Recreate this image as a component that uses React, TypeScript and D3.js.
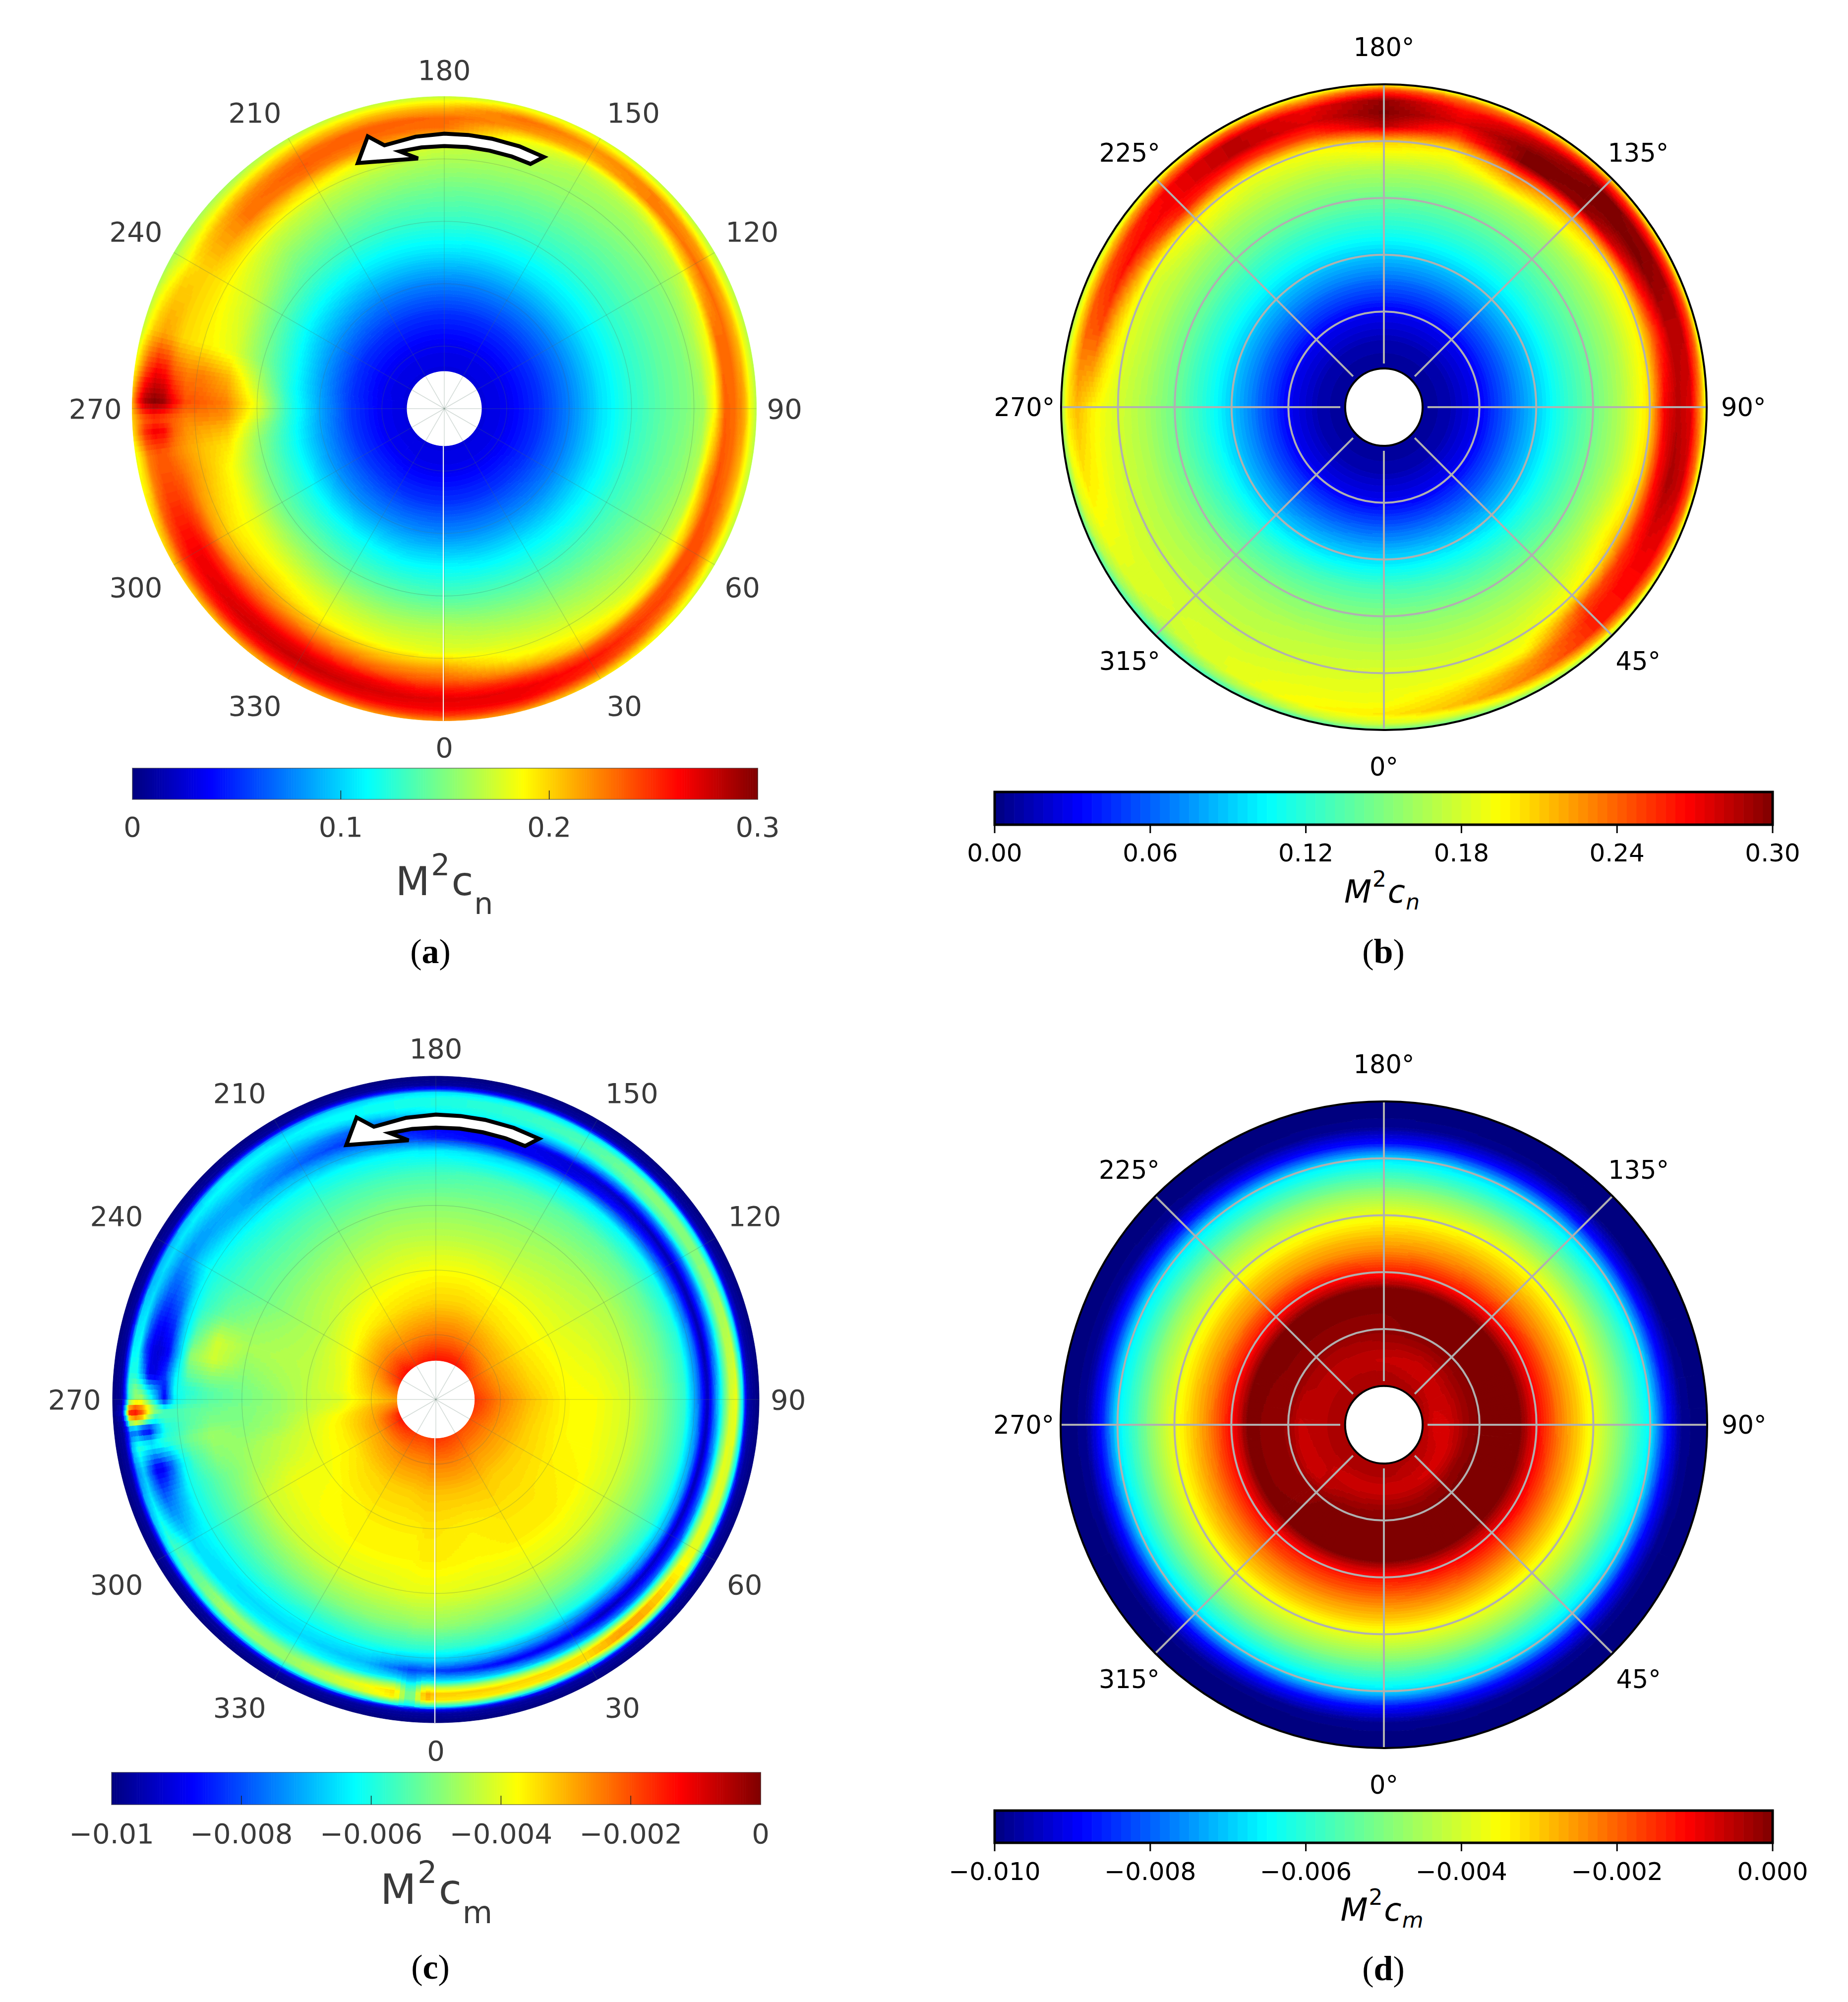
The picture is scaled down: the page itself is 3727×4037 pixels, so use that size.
import * as d3 from "d3";
import { useMemo } from "react";

// jet colormaps: (a),(c) come from MATLAB, (b),(d) from matplotlib
const jetColors = ["#00007f", "#0000ff", "#00ffff", "#ffff00", "#ff0000", "#7f0000"];
const jetStopsMatlab = [0, 0.125, 0.375, 0.625, 0.875, 1];
const jetStopsMpl = [0, 0.11, 0.35, 0.65, 0.89, 1];

// (a) measured M2cn, rows = azimuth, columns = r/R
const aRadii = [0.12, 0.2, 0.3, 0.4, 0.5, 0.6, 0.7, 0.78, 0.83, 0.87, 0.9, 0.93, 0.96, 0.98, 1];
const aThetas = [0, 15, 30, 45, 60, 75, 90, 105, 120, 135, 150, 165, 180, 195, 210, 225, 240, 255, 262, 268.5, 272, 274.5, 279, 285, 300, 315, 330, 345];
const aValues = [
  [0.028, 0.033, 0.052, 0.078, 0.11, 0.135, 0.165, 0.18, 0.215, 0.235, 0.255, 0.27, 0.265, 0.25, 0.22],
  [0.028, 0.033, 0.052, 0.078, 0.108, 0.135, 0.16, 0.178, 0.19, 0.22, 0.25, 0.268, 0.265, 0.245, 0.215],
  [0.028, 0.033, 0.052, 0.078, 0.108, 0.132, 0.155, 0.172, 0.185, 0.2, 0.235, 0.258, 0.25, 0.225, 0.195],
  [0.028, 0.033, 0.052, 0.076, 0.106, 0.13, 0.15, 0.165, 0.175, 0.195, 0.235, 0.245, 0.23, 0.205, 0.18],
  [0.028, 0.033, 0.05, 0.075, 0.105, 0.128, 0.145, 0.158, 0.17, 0.2, 0.24, 0.24, 0.215, 0.19, 0.17],
  [0.028, 0.033, 0.05, 0.075, 0.104, 0.126, 0.142, 0.153, 0.165, 0.215, 0.24, 0.23, 0.21, 0.185, 0.168],
  [0.028, 0.033, 0.05, 0.075, 0.104, 0.125, 0.14, 0.15, 0.16, 0.19, 0.235, 0.23, 0.215, 0.185, 0.165],
  [0.028, 0.033, 0.05, 0.075, 0.104, 0.125, 0.14, 0.15, 0.165, 0.185, 0.23, 0.23, 0.21, 0.185, 0.165],
  [0.028, 0.033, 0.05, 0.075, 0.104, 0.125, 0.14, 0.15, 0.16, 0.17, 0.205, 0.23, 0.215, 0.185, 0.165],
  [0.028, 0.033, 0.05, 0.075, 0.104, 0.125, 0.14, 0.152, 0.158, 0.165, 0.18, 0.225, 0.225, 0.195, 0.168],
  [0.028, 0.033, 0.05, 0.075, 0.104, 0.126, 0.142, 0.155, 0.16, 0.165, 0.175, 0.21, 0.22, 0.2, 0.175],
  [0.028, 0.033, 0.05, 0.075, 0.104, 0.127, 0.144, 0.158, 0.165, 0.175, 0.19, 0.22, 0.23, 0.205, 0.175],
  [0.028, 0.033, 0.05, 0.075, 0.105, 0.128, 0.145, 0.16, 0.17, 0.205, 0.23, 0.232, 0.21, 0.19, 0.17],
  [0.028, 0.033, 0.05, 0.075, 0.105, 0.128, 0.148, 0.165, 0.18, 0.22, 0.232, 0.235, 0.21, 0.19, 0.17],
  [0.028, 0.033, 0.05, 0.075, 0.105, 0.13, 0.152, 0.17, 0.195, 0.228, 0.236, 0.23, 0.205, 0.185, 0.165],
  [0.028, 0.033, 0.05, 0.077, 0.107, 0.133, 0.155, 0.175, 0.205, 0.228, 0.228, 0.218, 0.195, 0.175, 0.16],
  [0.028, 0.033, 0.05, 0.08, 0.11, 0.14, 0.17, 0.185, 0.195, 0.2, 0.2, 0.195, 0.18, 0.172, 0.16],
  [0.028, 0.033, 0.052, 0.083, 0.118, 0.15, 0.18, 0.19, 0.195, 0.2, 0.21, 0.215, 0.205, 0.19, 0.17],
  [0.028, 0.034, 0.052, 0.085, 0.12, 0.165, 0.21, 0.225, 0.225, 0.235, 0.255, 0.26, 0.24, 0.215, 0.185],
  [0.028, 0.034, 0.054, 0.087, 0.125, 0.18, 0.225, 0.235, 0.24, 0.265, 0.29, 0.297, 0.285, 0.255, 0.21],
  [0.028, 0.034, 0.054, 0.087, 0.125, 0.175, 0.22, 0.225, 0.225, 0.235, 0.24, 0.245, 0.235, 0.22, 0.2],
  [0.028, 0.034, 0.054, 0.086, 0.123, 0.165, 0.21, 0.215, 0.22, 0.235, 0.26, 0.265, 0.25, 0.225, 0.195],
  [0.028, 0.034, 0.054, 0.085, 0.12, 0.155, 0.195, 0.205, 0.215, 0.225, 0.235, 0.235, 0.225, 0.2, 0.18],
  [0.028, 0.034, 0.054, 0.084, 0.118, 0.15, 0.185, 0.205, 0.22, 0.235, 0.24, 0.24, 0.225, 0.2, 0.185],
  [0.028, 0.034, 0.054, 0.082, 0.118, 0.145, 0.18, 0.195, 0.215, 0.25, 0.265, 0.265, 0.25, 0.225, 0.2],
  [0.028, 0.034, 0.054, 0.08, 0.116, 0.145, 0.175, 0.2, 0.225, 0.25, 0.27, 0.275, 0.26, 0.235, 0.205],
  [0.028, 0.033, 0.052, 0.08, 0.114, 0.14, 0.17, 0.19, 0.22, 0.25, 0.27, 0.28, 0.265, 0.24, 0.215],
  [0.028, 0.033, 0.052, 0.079, 0.11, 0.138, 0.165, 0.185, 0.215, 0.24, 0.265, 0.275, 0.265, 0.245, 0.215],
];

// (b) computed M2cn
const bRadii = [0.12, 0.2, 0.296, 0.472, 0.56, 0.648, 0.74, 0.824, 0.87, 0.91, 0.95, 0.98, 1];
const bThetas = [0, 15, 30, 45, 60, 75, 90, 105, 120, 135, 150, 165, 180, 195, 210, 225, 240, 255, 270, 285, 300, 315, 330, 345];
const bValues = [
  [0.006, 0.012, 0.031, 0.095, 0.13, 0.152, 0.17, 0.183, 0.187, 0.19, 0.2, 0.18, 0.14],
  [0.006, 0.012, 0.031, 0.095, 0.128, 0.152, 0.17, 0.183, 0.19, 0.205, 0.215, 0.18, 0.14],
  [0.006, 0.012, 0.031, 0.093, 0.125, 0.15, 0.17, 0.185, 0.195, 0.225, 0.235, 0.195, 0.15],
  [0.006, 0.012, 0.031, 0.09, 0.122, 0.148, 0.17, 0.195, 0.245, 0.26, 0.26, 0.215, 0.16],
  [0.006, 0.012, 0.031, 0.09, 0.12, 0.145, 0.175, 0.21, 0.255, 0.27, 0.27, 0.235, 0.17],
  [0.006, 0.012, 0.031, 0.09, 0.12, 0.145, 0.17, 0.205, 0.265, 0.29, 0.28, 0.24, 0.175],
  [0.006, 0.012, 0.031, 0.09, 0.12, 0.144, 0.17, 0.205, 0.27, 0.285, 0.275, 0.225, 0.18],
  [0.006, 0.012, 0.031, 0.09, 0.12, 0.144, 0.168, 0.2, 0.25, 0.285, 0.285, 0.245, 0.18],
  [0.006, 0.012, 0.031, 0.09, 0.12, 0.144, 0.168, 0.2, 0.27, 0.3, 0.295, 0.25, 0.18],
  [0.006, 0.012, 0.031, 0.09, 0.118, 0.142, 0.168, 0.215, 0.295, 0.3, 0.3, 0.255, 0.19],
  [0.006, 0.012, 0.031, 0.09, 0.118, 0.142, 0.17, 0.235, 0.3, 0.3, 0.28, 0.24, 0.185],
  [0.006, 0.012, 0.031, 0.09, 0.118, 0.142, 0.168, 0.2, 0.25, 0.275, 0.265, 0.235, 0.18],
  [0.006, 0.012, 0.031, 0.09, 0.118, 0.144, 0.17, 0.21, 0.285, 0.3, 0.295, 0.25, 0.19],
  [0.006, 0.012, 0.031, 0.09, 0.118, 0.144, 0.168, 0.195, 0.25, 0.275, 0.27, 0.225, 0.18],
  [0.006, 0.012, 0.031, 0.09, 0.118, 0.144, 0.168, 0.19, 0.25, 0.285, 0.285, 0.24, 0.18],
  [0.006, 0.012, 0.031, 0.09, 0.118, 0.144, 0.168, 0.2, 0.26, 0.27, 0.27, 0.23, 0.175],
  [0.006, 0.012, 0.031, 0.09, 0.118, 0.144, 0.168, 0.185, 0.23, 0.265, 0.25, 0.21, 0.17],
  [0.006, 0.012, 0.031, 0.09, 0.118, 0.144, 0.168, 0.185, 0.21, 0.245, 0.24, 0.2, 0.165],
  [0.006, 0.012, 0.031, 0.09, 0.118, 0.144, 0.165, 0.18, 0.19, 0.2, 0.215, 0.2, 0.16],
  [0.006, 0.012, 0.031, 0.09, 0.12, 0.144, 0.165, 0.178, 0.185, 0.195, 0.2, 0.185, 0.14],
  [0.006, 0.012, 0.031, 0.09, 0.123, 0.147, 0.165, 0.175, 0.18, 0.185, 0.185, 0.165, 0.13],
  [0.006, 0.012, 0.031, 0.09, 0.126, 0.15, 0.167, 0.175, 0.18, 0.18, 0.175, 0.15, 0.12],
  [0.006, 0.012, 0.031, 0.092, 0.128, 0.152, 0.168, 0.175, 0.18, 0.185, 0.185, 0.16, 0.125],
  [0.006, 0.012, 0.031, 0.094, 0.13, 0.152, 0.17, 0.18, 0.185, 0.19, 0.195, 0.17, 0.13],
];

// (c) measured M2cm x 1000
const cRadii = [0.12, 0.2, 0.3, 0.4, 0.5, 0.6, 0.7, 0.77, 0.81, 0.84, 0.87, 0.89, 0.91, 0.93, 0.95, 0.96, 0.972, 1];
const cThetas = [0, 15, 30, 38, 45, 60, 75, 90, 105, 120, 135, 150, 165, 180, 195, 210, 225, 240, 248, 255, 260, 265, 268, 270, 271, 272.5, 274, 276, 279, 284, 290, 300, 315, 330, 345, 352, 355, 358];
const cValues = [
  [-1.7, -2.5, -3.2, -3.5, -3.6, -4.0, -4.8, -5.8, -6.8, -8.2, -6.5, -4.5, -3.2, -3.5, -6.0, -8.8, -9.7, -10],
  [-1.8, -2.5, -3.2, -3.6, -3.7, -4.1, -5.0, -5.9, -7.2, -8.8, -6.8, -4.6, -3.3, -3.6, -6.0, -8.8, -9.7, -10],
  [-1.9, -2.6, -3.2, -3.5, -3.6, -4.1, -5.0, -6.0, -7.6, -9.0, -7.2, -5.0, -3.4, -3.4, -5.8, -8.6, -9.7, -10],
  [-2.0, -2.7, -3.3, -3.5, -3.6, -4.1, -5.0, -6.0, -7.8, -9.5, -7.6, -5.0, -2.9, -2.8, -5.5, -8.5, -9.7, -10],
  [-2.0, -2.7, -3.3, -3.5, -3.6, -4.1, -5.0, -6.0, -7.6, -9.4, -7.8, -5.2, -3.0, -3.0, -5.6, -8.6, -9.7, -10],
  [-2.0, -2.7, -3.3, -3.6, -3.7, -4.2, -5.0, -5.8, -7.0, -9.4, -8.0, -5.5, -4.0, -4.0, -6.0, -8.8, -9.7, -10],
  [-1.8, -2.6, -3.3, -3.7, -3.8, -4.2, -5.0, -5.8, -7.2, -9.5, -7.5, -5.2, -4.0, -4.2, -6.3, -8.9, -9.7, -10],
  [-1.7, -2.5, -3.2, -3.7, -3.8, -4.2, -5.0, -5.8, -7.5, -9.5, -7.0, -5.5, -4.2, -3.9, -6.5, -9.2, -9.7, -10],
  [-1.9, -2.7, -3.4, -3.8, -4.0, -4.4, -5.1, -5.9, -7.6, -9.6, -7.6, -5.8, -4.6, -4.5, -6.6, -9.0, -9.7, -10],
  [-1.9, -2.8, -3.5, -3.9, -4.2, -4.5, -5.2, -6.1, -8.0, -9.6, -7.8, -5.8, -5.0, -5.0, -6.6, -9.0, -9.7, -10],
  [-1.6, -2.7, -3.5, -3.9, -4.3, -4.7, -5.3, -6.3, -8.5, -9.5, -7.5, -5.5, -5.0, -5.0, -6.5, -8.9, -9.7, -10],
  [-1.4, -2.5, -3.4, -3.9, -4.4, -4.8, -5.4, -6.5, -9.0, -9.2, -7.0, -6.0, -5.5, -5.6, -6.5, -8.8, -9.7, -10],
  [-1.4, -2.4, -3.3, -3.8, -4.4, -4.9, -5.5, -6.6, -8.8, -8.8, -7.0, -6.0, -5.8, -5.8, -6.5, -8.6, -9.7, -10],
  [-1.4, -2.4, -3.3, -3.8, -4.4, -4.9, -5.6, -6.4, -8.5, -8.8, -7.0, -6.3, -6.0, -6.0, -6.5, -8.5, -9.7, -10],
  [-1.5, -2.5, -3.4, -3.9, -4.4, -4.9, -5.6, -6.3, -7.5, -8.4, -7.8, -6.8, -6.2, -6.2, -6.7, -8.4, -9.7, -10],
  [-1.6, -2.6, -3.5, -4.0, -4.5, -5.0, -5.6, -6.2, -7.0, -7.8, -7.4, -7.0, -6.5, -6.3, -6.8, -8.5, -9.7, -10],
  [-1.3, -2.5, -3.6, -4.2, -4.6, -5.1, -5.6, -6.1, -6.6, -7.1, -7.1, -6.8, -6.5, -6.2, -6.6, -8.4, -9.7, -10],
  [-1.5, -2.6, -3.8, -4.4, -4.7, -5.1, -5.5, -5.9, -6.2, -6.6, -7.2, -7.3, -6.9, -6.5, -7.0, -8.6, -9.7, -10],
  [-1.8, -2.8, -3.9, -4.4, -4.6, -4.8, -5.2, -5.8, -6.5, -7.6, -8.0, -7.8, -7.2, -6.6, -7.0, -8.6, -9.7, -10],
  [-2.2, -3.0, -4.0, -4.4, -4.5, -4.6, -4.2, -5.4, -6.8, -8.4, -8.8, -8.6, -7.8, -6.4, -6.6, -8.4, -9.7, -10],
  [-2.4, -3.1, -4.0, -4.4, -4.6, -4.8, -4.2, -4.8, -7.0, -8.8, -9.2, -9.0, -8.2, -6.2, -6.4, -8.2, -9.7, -10],
  [-2.6, -3.2, -4.0, -4.4, -4.7, -5.0, -5.0, -5.4, -6.4, -8.2, -9.0, -9.0, -7.2, -6.0, -6.0, -8.2, -9.7, -10],
  [-2.7, -3.3, -4.1, -4.4, -4.8, -5.1, -5.4, -5.9, -6.2, -8.6, -7.2, -6.4, -5.4, -5.0, -5.6, -8.0, -9.7, -10],
  [-2.8, -3.3, -4.1, -4.4, -4.8, -5.1, -5.4, -5.8, -6.4, -8.8, -6.6, -5.6, -4.6, -4.8, -5.8, -8.2, -9.7, -10],
  [-2.8, -3.3, -4.1, -4.4, -4.8, -5.1, -5.3, -5.6, -6.0, -7.0, -5.2, -4.0, -3.0, -2.5, -3.5, -7.0, -9.5, -10],
  [-2.8, -3.3, -4.0, -4.4, -4.8, -5.0, -5.2, -5.4, -5.6, -5.6, -5.0, -3.8, -2.2, -1.5, -1.8, -5.5, -9.3, -10],
  [-2.6, -3.2, -4.0, -4.4, -4.8, -5.0, -5.1, -5.4, -5.6, -5.6, -6.0, -5.0, -3.6, -3.0, -4.0, -7.5, -9.6, -10],
  [-2.5, -3.1, -3.9, -4.3, -4.7, -5.0, -5.0, -5.4, -5.8, -6.0, -7.4, -9.0, -8.8, -7.8, -7.8, -8.8, -9.7, -10],
  [-2.4, -3.0, -3.7, -4.2, -4.7, -4.9, -4.7, -5.1, -5.6, -5.8, -6.0, -6.2, -6.0, -5.8, -6.8, -8.6, -9.7, -10],
  [-2.0, -2.9, -3.6, -4.1, -4.4, -4.7, -4.9, -5.6, -6.4, -7.8, -8.9, -8.9, -7.9, -6.8, -7.4, -8.8, -9.7, -10],
  [-1.6, -2.8, -3.6, -4.0, -4.3, -4.6, -5.2, -5.8, -6.2, -7.0, -7.6, -7.8, -7.2, -6.4, -7.0, -8.6, -9.7, -10],
  [-1.4, -2.8, -3.6, -3.9, -3.9, -4.3, -5.2, -5.8, -6.2, -6.4, -6.6, -6.2, -5.8, -5.6, -6.6, -8.6, -9.7, -10],
  [-1.6, -2.7, -3.4, -3.7, -3.8, -4.2, -5.1, -5.8, -6.3, -6.6, -6.4, -5.6, -4.6, -4.8, -6.4, -8.6, -9.7, -10],
  [-1.8, -2.6, -3.3, -3.6, -3.7, -4.1, -5.0, -5.9, -6.4, -6.6, -6.2, -5.4, -4.8, -4.8, -6.2, -8.7, -9.7, -10],
  [-1.9, -2.6, -3.3, -3.6, -3.7, -4.1, -4.9, -5.8, -6.5, -6.9, -6.4, -4.8, -3.9, -4.2, -6.2, -8.8, -9.7, -10],
  [-1.8, -2.6, -3.2, -3.6, -3.7, -4.0, -4.9, -5.8, -6.8, -7.8, -6.4, -4.6, -3.4, -3.6, -6.0, -8.8, -9.7, -10],
  [-1.8, -2.5, -3.2, -3.5, -3.6, -4.0, -4.8, -5.8, -6.8, -8.2, -7.0, -6.0, -5.5, -5.5, -6.4, -8.8, -9.7, -10],
  [-1.7, -2.5, -3.2, -3.5, -3.6, -4.0, -4.8, -5.8, -6.8, -8.0, -6.4, -4.2, -2.8, -3.0, -5.8, -8.8, -9.7, -10],
];

// (d) computed M2cm x 1000
const dRadii = [0.12, 0.16, 0.2, 0.26, 0.3, 0.42, 0.47, 0.54, 0.6, 0.648, 0.72, 0.78, 0.824, 0.87, 0.92, 0.96, 1];
const dThetas = [0, 30, 60, 90, 120, 150, 180, 210, 240, 270, 300, 330];
const dValues = [
  [-0.4, -0.4, -0.7, -0.2, 0, 0, -1.2, -2.2, -3.0, -3.7, -4.8, -5.9, -6.8, -8.7, -9.8, -10, -10],
  [-0.4, -0.5, -0.7, -0.2, 0, 0, -1.0, -2.1, -3.0, -3.7, -4.8, -6.0, -6.9, -8.8, -9.9, -10, -10],
  [-0.4, -0.6, -0.8, -0.1, 0, 0, -0.9, -2.1, -3.0, -3.7, -4.8, -6.0, -6.9, -8.9, -9.9, -10, -10],
  [-0.4, -0.8, -0.7, -0.2, 0, 0, -1.0, -2.2, -3.0, -3.7, -4.8, -5.8, -6.6, -8.6, -9.8, -10, -10],
  [-0.3, -0.6, -0.6, -0.2, 0, 0, -1.0, -2.2, -3.0, -3.6, -4.8, -5.9, -6.9, -8.9, -10, -10, -10],
  [-0.3, -0.5, -0.7, -0.3, 0, 0, -1.2, -2.3, -3.0, -3.6, -4.8, -6.0, -6.9, -8.8, -9.9, -10, -10],
  [-0.4, -0.4, -0.6, -0.3, -0.1, 0, -1.3, -2.4, -3.1, -3.7, -4.8, -5.9, -6.8, -8.8, -9.8, -10, -10],
  [-0.3, -0.4, -0.5, -0.4, -0.1, 0, -1.1, -2.4, -3.1, -3.8, -4.8, -5.9, -6.8, -8.8, -9.9, -10, -10],
  [-0.3, -0.4, -0.5, -0.4, -0.1, 0, -1.2, -2.4, -3.1, -3.8, -4.8, -5.9, -6.7, -8.6, -9.8, -10, -10],
  [-0.4, -0.4, -0.5, -0.6, -0.2, 0, -1.1, -2.3, -3.1, -3.7, -4.8, -5.9, -6.7, -8.6, -9.8, -10, -10],
  [-0.3, -0.4, -0.5, -0.7, -0.2, 0, -1.1, -2.2, -3.0, -3.7, -4.8, -5.9, -6.9, -8.8, -9.9, -10, -10],
  [-0.4, -0.4, -0.7, -0.3, 0, 0, -1.2, -2.2, -3.0, -3.7, -4.8, -6.0, -6.9, -8.8, -9.9, -10, -10],
];

// azimuth tick labels and colorbar ticks
const matlabAzimuths = [0, 30, 60, 90, 120, 150, 180, 210, 240, 270, 300, 330];
const matlabLabelOffsets = [
  [0, 1.086], [0.577, 0.953], [0.955, 0.573], [1.09, 0], [0.986, -0.567], [0.606, -0.947],
  [0, -1.085], [-0.607, -0.947], [-0.988, -0.567], [-1.118, 0], [-0.988, 0.573], [-0.607, 0.953],
];
const mplAzimuths = [0, 45, 90, 135, 180, 225, 270, 315];
const aTicks = [0, 0.1, 0.2, 0.3];
const aTickLabels = ["0", "0.1", "0.2", "0.3"];
const bTicks = [0, 0.06, 0.12, 0.18, 0.24, 0.3];
const bTickLabels = ["0.00", "0.06", "0.12", "0.18", "0.24", "0.30"];
const cTicks = [-10, -8, -6, -4, -2, 0];
const cTickLabels = ["\u22120.01", "\u22120.008", "\u22120.006", "\u22120.004", "\u22120.002", "0"];
const dTickLabels = ["\u22120.010", "\u22120.008", "\u22120.006", "\u22120.004", "\u22120.002", "0.000"];

// rotation arrow in (azimuth, r/R)
const arrowOutline = [
  [158.4, 0.867], [164, 0.874], [170, 0.878], [175, 0.88], [180, 0.881], [186, 0.876], [192.8, 0.865],
  [195.7, 0.906], [199.4, 0.834], [186, 0.806], [189.8, 0.836], [185, 0.84], [180, 0.841], [175, 0.841],
  [170, 0.839], [165, 0.836], [160.6, 0.831],
];

const angle = d3.scaleLinear([0, 360], [Math.PI, -Math.PI]);
const FONT = "'DejaVu Sans'";

function jetScale(domain: number[], stops: number[]) {
  const pos = d3.scaleLinear([0, 1], domain);
  return d3.scaleLinear<string>(stops.map((s) => pos(s)), jetColors).clamp(true);
}

// bilinear lookup in the table, the way a shaded pcolor fills between its nodes
function lookup(thetas: number[], radii: number[], values: number[][], th: number, r: number) {
  const ths = [...thetas, thetas[0] + 360];
  const i = Math.min(d3.bisectRight(ths, th) - 1, ths.length - 2);
  const j = Math.max(0, Math.min(d3.bisectRight(radii, r) - 1, radii.length - 2));
  const u = (th - ths[i]) / (ths[i + 1] - ths[i]);
  const w = Math.max(0, Math.min(1, (r - radii[j]) / (radii[j + 1] - radii[j])));
  const row0 = values[i];
  const row1 = values[(i + 1) % values.length];
  const a = row0[j] + (row0[j + 1] - row0[j]) * w;
  const b = row1[j] + (row1[j + 1] - row1[j]) * w;
  return a + (b - a) * u;
}

function Field({ R, thetas, radii, values, domain, stops, levels }: any) {
  const cells = useMemo(() => {
    const color = jetScale(domain, stops);
    const rad = d3.scaleLinear([0, 1], [0, R]);
    const t = d3.scaleLinear(domain, [0, levels - 1]).clamp(true);
    const arc = d3.arc().digits(1);
    const byLevel = new Map<number, string[]>();
    const dTh = 1;
    const dR = 0.004;
    for (let th = 0; th < 360; th += dTh) {
      let start = 0.12;
      let cur = -1;
      for (let r = 0.12; r < 1 + dR / 2; r += dR) {
        const lev = r >= 1 ? -2 : Math.round(t(lookup(thetas, radii, values, th + dTh / 2, r + dR / 2)));
        if (lev !== cur) {
          if (cur >= 0) {
            const d = arc({
              innerRadius: rad(start),
              outerRadius: rad(Math.min(r, 1)),
              startAngle: angle(th),
              endAngle: angle(th + dTh),
            } as any) as string;
            if (!byLevel.has(cur)) byLevel.set(cur, []);
            byLevel.get(cur)!.push(d);
          }
          start = r;
          cur = lev;
        }
      }
    }
    const lv = d3.scaleLinear([0, levels - 1], domain);
    return Array.from(byLevel, ([lev, ds]) => ({ d: ds.join(""), fill: color(lv(lev)) }));
  }, [R, thetas, radii, values, domain, stops, levels]);

  return (
    <g>
      {cells.map((c, i) => (
        <path key={i} d={c.d} fill={c.fill} stroke={c.fill} strokeWidth={0.8} />
      ))}
    </g>
  );
}

function Arrow({ R }: { R: number }) {
  const rad = d3.scaleLinear([0, 1], [0, R]);
  const line = d3
    .lineRadial<number[]>()
    .angle((d) => angle(d[0]))
    .radius((d) => rad(d[1]))
    .curve(d3.curveLinearClosed);
  return <path d={line(arrowOutline) as string} fill="#fff" stroke="#000" strokeWidth={8} strokeLinejoin="miter" />;
}

// panels (a) and (c): MATLAB polar plot, thin grid, white seam at azimuth 0
function MatlabPolar({ cx, cy, R, thetas, radii, values, domain }: any) {
  const rad = d3.scaleLinear([0, 1], [0, R]);
  const rings = [0.2, 0.4, 0.6, 0.8];
  return (
    <g transform={`translate(${cx},${cy})`}>
      <Field R={R} thetas={thetas} radii={radii} values={values} domain={domain} stops={jetStopsMatlab} levels={110} />
      <circle r={rad(0.12)} fill="#fff" />
      {rings.map((r) => (
        <circle key={r} r={rad(r)} fill="none" stroke="#4f6f5f" strokeOpacity={0.25} strokeWidth={1.5} />
      ))}
      {matlabAzimuths.map((th) => (
        <line
          key={th}
          x2={rad(1) * Math.sin(-angle(th) + Math.PI)}
          y2={rad(1) * Math.cos(-angle(th) + Math.PI)}
          stroke="#4f6f5f"
          strokeOpacity={0.25}
          strokeWidth={1.5}
        />
      ))}
      <line x1={-2} x2={-2} y1={rad(0.12)} y2={rad(1)} stroke="#fff" strokeWidth={2} />
      <Arrow R={R} />
      {matlabAzimuths.map((th, i) => (
        <text
          key={th}
          x={matlabLabelOffsets[i][0] * R}
          y={matlabLabelOffsets[i][1] * R}
          textAnchor="middle"
          dominantBaseline="central"
          fontFamily={FONT}
          fontSize={56}
          fill="#3a3a3a"
        >
          {th}
        </text>
      ))}
    </g>
  );
}

// panels (b) and (d): matplotlib polar plot, heavy grey grid, black frame
function MplPolar({ cx, cy, R, thetas, radii, values, domain }: any) {
  const rad = d3.scaleLinear([0, 1], [0, R]);
  const rings = [0.296, 0.472, 0.648, 0.824];
  const px = (th: number, r: number) => rad(r) * Math.sin(Math.PI - angle(th));
  const py = (th: number, r: number) => rad(r) * Math.cos(Math.PI - angle(th));
  return (
    <g transform={`translate(${cx},${cy})`}>
      <Field R={R} thetas={thetas} radii={radii} values={values} domain={domain} stops={jetStopsMpl} levels={80} />
      {rings.map((r) => (
        <circle key={r} r={rad(r)} fill="none" stroke="#b0b0b0" strokeWidth={4} />
      ))}
      {mplAzimuths.map((th) => (
        <line key={th} x1={px(th, 0.135)} y1={py(th, 0.135)} x2={px(th, 1)} y2={py(th, 1)} stroke="#b0b0b0" strokeWidth={4} />
      ))}
      <circle r={rad(0.12)} fill="#fff" stroke="#000" strokeWidth={4} />
      <circle r={rad(1)} fill="none" stroke="#000" strokeWidth={4} />
      {mplAzimuths.map((th) => (
        <text
          key={th}
          x={px(th, 1.114)}
          y={py(th, 1.114)}
          textAnchor="middle"
          dominantBaseline="central"
          fontFamily={FONT}
          fontSize={51}
          fill="#000"
        >
          {th}°
        </text>
      ))}
    </g>
  );
}

function ColorBar({ x0, x1, y0, y1, domain, stops, levels, ticks, labels, labelY, heavy }: any) {
  const x = d3.scaleLinear(domain as number[], [x0, x1]);
  const color = jetScale(domain, stops);
  const steps = d3.range(levels).map((i) => domain[0] + ((domain[1] - domain[0]) * i) / levels);
  const w = (x1 - x0) / levels;
  return (
    <g>
      {steps.map((v, i) => (
        <rect key={i} x={x(v)} y={y0} width={w + 0.6} height={y1 - y0} fill={color(v + (domain[1] - domain[0]) / levels / 2)} />
      ))}
      {heavy ? (
        <rect x={x0} y={y0} width={x1 - x0} height={y1 - y0} fill="none" stroke="#000" strokeWidth={5} />
      ) : (
        <rect x={x0} y={y0} width={x1 - x0} height={y1 - y0} fill="none" stroke="#333" strokeOpacity={0.5} strokeWidth={2} />
      )}
      {ticks.map((t: number) =>
        heavy ? (
          <line key={t} x1={x(t)} x2={x(t)} y1={y1} y2={y1 + 17} stroke="#000" strokeWidth={3} />
        ) : t === domain[0] || t === domain[1] ? null : (
          <line key={t} x1={x(t)} x2={x(t)} y1={y1 - 18} y2={y1} stroke="#222" strokeWidth={1.5} />
        )
      )}
      {ticks.map((t: number, i: number) => (
        <text
          key={t}
          x={x(t)}
          y={labelY}
          textAnchor="middle"
          dominantBaseline="central"
          fontFamily={FONT}
          fontSize={heavy ? 50 : 56}
          fill={heavy ? "#000" : "#3a3a3a"}
        >
          {labels[i]}
        </text>
      ))}
    </g>
  );
}

function Title({ x, y, sub, size, small, up, down, italic }: any) {
  const st = italic ? "italic" : "normal";
  return (
    <text x={x} y={y} textAnchor="middle" fontFamily={FONT} fontSize={size} fill={italic ? "#000" : "#3a3a3a"}>
      <tspan fontStyle={st}>M</tspan>
      <tspan fontSize={small} dy={-up} dx={size * 0.03}>2</tspan>
      <tspan fontStyle={st} dy={up} dx={size * 0.04}>c</tspan>
      <tspan fontStyle={st} fontSize={small} dy={down} dx={size * 0.02}>{sub}</tspan>
    </text>
  );
}

function Caption({ x, y, letter }: any) {
  return (
    <text x={x} y={y} textAnchor="middle" fontFamily="'Liberation Serif'" fontSize={70} fill="#000">
      (<tspan fontWeight="bold">{letter}</tspan>)
    </text>
  );
}

export default function App() {
  const width = 3727;
  const height = 4037;
  return (
    <svg width={width} height={height} style={{ position: "absolute", left: 0, top: 0, background: "#fff" }}>
      <MatlabPolar cx={896} cy={824} R={629.5} thetas={aThetas} radii={aRadii} values={aValues} domain={[0, 0.3]} />
      <ColorBar x0={267} x1={1528} y0={1549} y1={1612} domain={[0, 0.3]} stops={jetStopsMatlab} levels={256} ticks={aTicks} labels={aTickLabels} labelY={1667} />
      <Title x={896} y={1805} sub="n" size={80} small={60} up={40} down={38} />
      <Caption x={868} y={1942} letter="a" />

      <MplPolar cx={2791} cy={821} R={651} thetas={bThetas} radii={bRadii} values={bValues} domain={[0, 0.3]} />
      <ColorBar x0={2006} x1={3575} y0={1597} y1={1663} domain={[0, 0.3]} stops={jetStopsMpl} levels={80} ticks={bTicks} labels={bTickLabels} labelY={1720} heavy />
      <Title x={2787} y={1820} sub="n" size={64} small={44} up={32} down={14} italic />
      <Caption x={2790} y={1942} letter="b" />

      <MatlabPolar cx={879} cy={2822} R={652} thetas={cThetas} radii={cRadii} values={cValues} domain={[-10, 0]} />
      <ColorBar x0={225} x1={1534} y0={3574} y1={3639} domain={[-10, 0]} stops={jetStopsMatlab} levels={256} ticks={cTicks} labels={cTickLabels} labelY={3697} />
      <Title x={880} y={3839} sub="m" size={84} small={62} up={42} down={39} />
      <Caption x={868} y={3990} letter="c" />

      <MplPolar cx={2791} cy={2873} R={652} thetas={dThetas} radii={dRadii} values={dValues} domain={[-10, 0]} />
      <ColorBar x0={2006} x1={3575} y0={3651} y1={3716} domain={[-10, 0]} stops={jetStopsMpl} levels={80} ticks={cTicks} labels={dTickLabels} labelY={3774} heavy />
      <Title x={2787} y={3873} sub="m" size={64} small={44} up={32} down={14} italic />
      <Caption x={2790} y={3993} letter="d" />
    </svg>
  );
}
